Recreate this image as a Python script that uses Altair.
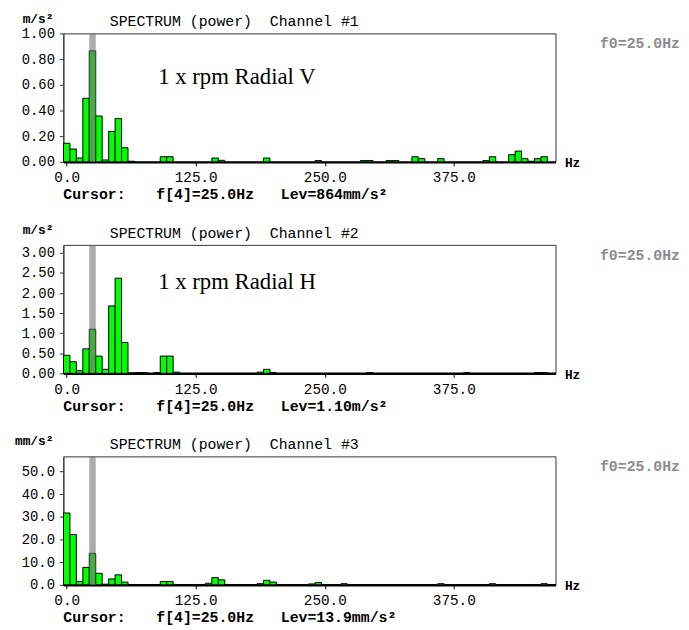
import altair as alt
import pandas as pd

BIN_HZ = 6.25
CURSOR_BIN = 4

# Channel 1 (m/s^2)
ch1_bins = [0, 1, 2, 3, 4, 5, 6, 7, 8, 9, 10, 15, 16, 23, 24, 31, 39, 46, 47, 50, 51,
            54, 55, 58, 65, 66, 69, 70, 71, 72, 73, 74]
ch1_vals = [0.145, 0.10, 0.03, 0.495, 0.864, 0.357, 0.015, 0.237, 0.337, 0.11, 0.005,
            0.04, 0.04, 0.03, 0.012, 0.03, 0.01, 0.01, 0.01, 0.01, 0.01,
            0.04, 0.025, 0.025, 0.01, 0.04, 0.056, 0.084, 0.025, 0.005, 0.025, 0.04]

# Channel 2 (m/s^2)
ch2_bins = [0, 1, 2, 3, 4, 5, 6, 7, 8, 9, 10, 11, 12, 14, 15, 16, 17, 30, 31, 32,
            47, 62, 73, 74]
ch2_vals = [0.45, 0.29, 0.065, 0.61, 1.10, 0.43, 0.10, 1.68, 2.37, 0.77, 0.01, 0.02,
            0.02, 0.02, 0.43, 0.43, 0.03, 0.03, 0.10, 0.02, 0.02, 0.02, 0.02, 0.02]

# Channel 3 (mm/s^2)
ch3_bins = [0, 1, 2, 3, 4, 5, 6, 7, 8, 9, 15, 16, 22, 23, 24, 30, 31, 32, 38, 39,
            43, 58, 66, 74]
ch3_vals = [31.7, 22.2, 1.5, 7.7, 13.9, 5.1, 0.3, 2.6, 4.4, 1.2, 1.5, 1.5, 0.7, 3.2,
            2.2, 0.5, 2.0, 1.2, 0.4, 1.0, 0.5, 0.5, 0.5, 0.5]

x_ticks = [0, 125, 250, 375]
x_domain = [-3.25, 473.5]

W, H = 498, 130
MONO = "Liberation Mono"
NB = "\u00a0"


def text_layer(txt, px, py, **kw):
    return alt.Chart(pd.DataFrame({"t": [txt]})).mark_text(**kw).encode(
        text="t:N", x=alt.value(px), y=alt.value(py))


def panel(bins, vals, ymax, yticks, yfmt, unit, channel, level, note=None, note_y=0):
    df = pd.DataFrame({"bin": bins, "val": vals})
    df["lo"] = df["bin"] * BIN_HZ - BIN_HZ / 2
    df["hi"] = df["bin"] * BIN_HZ + BIN_HZ / 2
    xs = alt.Scale(domain=x_domain, nice=False, zero=False)
    ys = alt.Scale(domain=[0, ymax], nice=False)
    x_axis = alt.Axis(
        values=x_ticks, format=".1f", title="Hz", grid=False,
        domainColor="black", domainWidth=2.5, tickColor="black", tickSize=4,
        labelFont=MONO, labelFontSize=14.5, labelColor="black", labelPadding=5,
        titleX=W + 9, titleY=1, titleAlign="left", titleBaseline="middle",
        titleFont=MONO, titleFontSize=13, titleFontWeight="bold", titleColor="black")

    bars = alt.Chart(df).mark_bar(color="#00ff00", stroke="black", strokeWidth=1).encode(
        x=alt.X("lo:Q", scale=xs, axis=x_axis),
        x2="hi:Q",
        y=alt.Y("val:Q", scale=ys, axis=alt.Axis(
            values=yticks, format=yfmt, title=None, grid=False,
            domainColor="#333", tickColor="#333", tickSize=4,
            labelFont=MONO, labelFontSize=14, labelColor="black", labelPadding=5)),
        y2=alt.datum(0),
    )

    cur = pd.DataFrame({"lo": [CURSOR_BIN * BIN_HZ - BIN_HZ / 2],
                        "hi": [CURSOR_BIN * BIN_HZ + BIN_HZ / 2]})
    band = alt.Chart(cur).mark_rect(color="#737373", opacity=0.6).encode(
        x=alt.X("lo:Q", scale=xs, axis=x_axis), x2="hi:Q",
        y=alt.value(0), y2=alt.value(H))

    f_txt = f"f[{CURSOR_BIN}]=25.0Hz"
    bold = dict(font=MONO, fontWeight="bold", align="left", baseline="middle")
    layers = [bars, band,
              text_layer(unit, -10, -15, font=MONO, fontSize=13, fontWeight="bold",
                         align="right", baseline="middle", color="black"),
              text_layer(f"SPECTRUM (power){NB}{NB}Channel #{channel}", 47, -12,
                         font=MONO, fontSize=15, align="left", baseline="middle",
                         color="black"),
              text_layer("Cursor:", 0, H + 33, fontSize=15, color="black", **bold),
              text_layer(f_txt, 94, H + 33, fontSize=15, color="black", **bold),
              text_layer(level, 220, H + 33, fontSize=15, color="black", **bold),
              text_layer("f0=25.0Hz", 543, 10, fontSize=15, color="#8c8c8c", **bold)]
    if note:
        layers.append(text_layer(note, 96, note_y, font="Liberation Serif", fontSize=23,
                                 align="left", baseline="alphabetic", color="black"))

    return alt.layer(*layers).properties(width=W, height=H)


p1 = panel(ch1_bins, ch1_vals, 1.0, [0, 0.2, 0.4, 0.6, 0.8, 1.0], ".2f", "m/s²", 1,
           "Lev=864mm/s²", "1 x rpm Radial V", 51)
p2 = panel(ch2_bins, ch2_vals, 3.2, [0, 0.5, 1.0, 1.5, 2.0, 2.5, 3.0], ".2f", "m/s²", 2,
           "Lev=1.10m/s²", "1 x rpm Radial H", 45)
p3 = panel(ch3_bins, ch3_vals, 56.7, [0, 10, 20, 30, 40, 50], ".1f", "mm/s²", 3,
           "Lev=13.9mm/s²")

chart = alt.vconcat(p1, p2, p3, spacing=84, bounds="flush").properties(
    padding={"left": 6, "top": 0, "right": 0, "bottom": 0}, background="white"
).configure_view(stroke="#333", strokeWidth=1)

chart.save("out.html", embed_options={"renderer": "svg", "actions": False})
